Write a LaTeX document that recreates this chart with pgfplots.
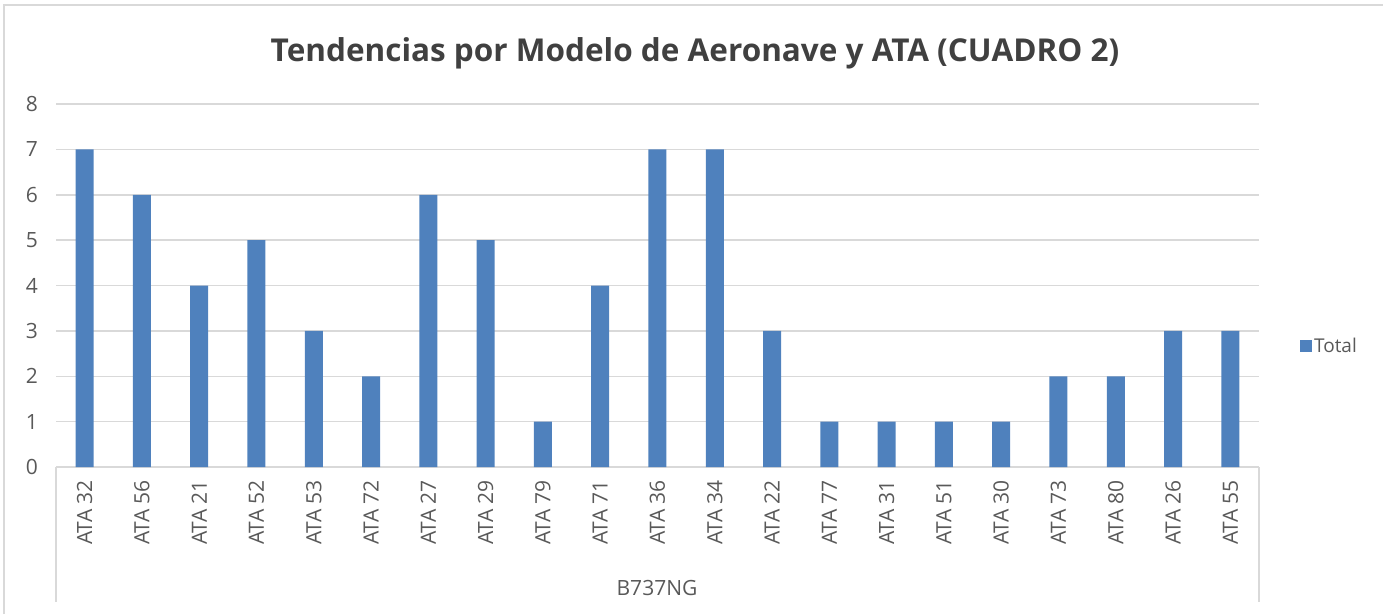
\documentclass[border=0pt]{standalone}
\usepackage{pgfplots}
\pgfplotsset{compat=1.18}
\usepackage{fontspec}
\setmainfont{Open Sans}
\definecolor{barblue}{HTML}{4F81BD}
\definecolor{txt}{HTML}{595959}
\definecolor{ttl}{HTML}{404040}
\definecolor{grd}{HTML}{D9D9D9}
\begin{document}
\begin{tikzpicture}[x=1pt,y=1pt]
\path[use as bounding box] (0,0) rectangle (1383,-614);
\draw[grd, line width=2pt] (4,-614) -- (4,-5) -- (1383,-5);
\node[anchor=base, text=ttl, font=\fontsize{31.5}{36}\selectfont\bfseries] at (695,-61) {Tendencias por Modelo de Aeronave y ATA (CUADRO 2)};
\begin{axis}[
  at={(56pt,-467pt)}, anchor=south west,
  width=1203pt, height=363pt, scale only axis,
  ybar, bar width=18pt,
  xmin=-0.5, xmax=20.5, ymin=0, ymax=8,
  ytick={0,1,...,8},
  /pgf/number format/assume math mode=true,
  xtick=data,
  xticklabels={ATA 32,ATA 56,ATA 21,ATA 52,ATA 53,ATA 72,ATA 27,ATA 29,ATA 79,ATA 71,ATA 36,ATA 34,ATA 22,ATA 77,ATA 31,ATA 51,ATA 30,ATA 73,ATA 80,ATA 26,ATA 55},
  major tick length=0pt,
  axis x line*=bottom, axis y line*=left,
  x axis line style={grd, line width=1.5pt, -},
  y axis line style={draw=none},
  ymajorgrids, grid style={grd, line width=1.5pt},
  ticklabel style={text=txt, font=\fontsize{21}{24}\selectfont},
  xticklabel style={rotate=90, anchor=east, inner sep=0pt},
  xticklabel shift=13pt,
  yticklabel style={anchor=east, inner sep=0pt},
  yticklabel shift=18pt,
  legend style={at={(rel axis cs:1.034,0.333)}, anchor=west, draw=none, fill=none,
    inner sep=0pt, font=\fontsize{19}{22}\selectfont, text=txt},
  legend image code/.code={\fill[barblue] (0pt,-6pt) rectangle (12pt,6pt);},
]
\addplot[fill=barblue, draw=none] coordinates {
(0,7) (1,6) (2,4) (3,5) (4,3) (5,2) (6,6) (7,5) (8,1) (9,4) (10,7)
(11,7) (12,3) (13,1) (14,1) (15,1) (16,1) (17,2) (18,2) (19,3) (20,3)};
\addlegendentry{Total}
\end{axis}
\draw[grd, line width=1.5pt] (56,-467) -- (56,-602);
\draw[grd, line width=1.5pt] (1259,-467) -- (1259,-602);
\node[anchor=base, text=txt, font=\fontsize{21}{24}\selectfont] at (657,-595) {B737NG};
\end{tikzpicture}
\end{document}
